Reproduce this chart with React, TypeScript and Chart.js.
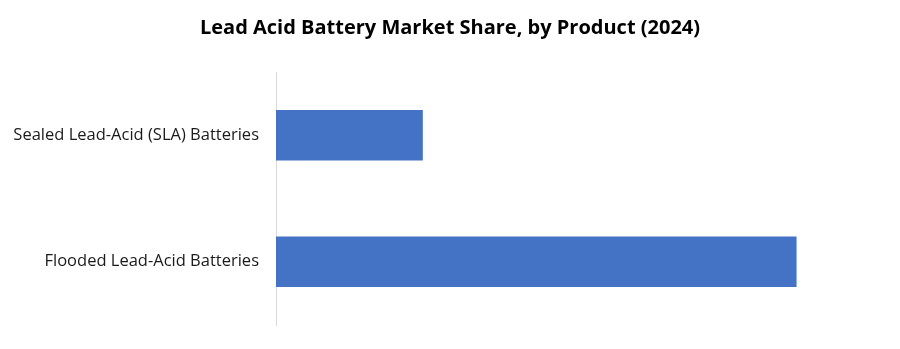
import React, { useEffect, useRef } from "react";
import { Chart, registerables } from "chart.js";

Chart.register(...registerables);

const categories: string[] = ["Sealed Lead-Acid (SLA) Batteries", "Flooded Lead-Acid Batteries"];
const shares: number[] = [22, 78];
const titleText = "Lead Acid Battery Market Share, by Product (2024)";

export default function App() {
  const ref = useRef<HTMLCanvasElement | null>(null);
  useEffect(() => {
    if (!ref.current) return;
    const chart = new Chart(ref.current, {
      type: "bar",
      data: {
        labels: categories,
        datasets: [
          {
            data: shares,
            backgroundColor: "#4472C4",
            borderWidth: 0,
            barPercentage: 0.4,
            categoryPercentage: 1,
          },
        ],
      },
      options: {
        indexAxis: "y",
        animation: false,
        responsive: false,
        maintainAspectRatio: false,
        layout: { padding: { left: 0, right: 0, top: 0, bottom: 24 } },
        plugins: {
          legend: { display: false },
          tooltip: { enabled: false },
          title: {
            display: true,
            text: titleText,
            color: "#000000",
            font: { family: "'Open Sans'", size: 20, weight: "bold", lineHeight: 1.2 },
            padding: { top: 16, bottom: 32 },
          },
        },
        scales: {
          x: {
            display: false,
            min: 0,
            max: 93.5,
          },
          y: {
            grid: { display: false, drawTicks: false },
            border: { display: true, color: "#d9d9d9", width: 1 },
            ticks: {
              color: "#1a1a1a",
              padding: 17,
              font: { family: "'Open Sans'", size: 16.5 },
            },
            afterFit: (scale: any) => {
              scale.width = 276;
              scale.paddingTop = 0;
              scale.paddingBottom = 0;
            },
          },
        },
      },
    });
    return () => chart.destroy();
  }, []);
  return (
    <div style={{ position: "absolute", left: 0, top: 0, width: 900, height: 349, background: "#fff" }}>
      <canvas ref={ref} width={900} height={349} />
    </div>
  );
}
